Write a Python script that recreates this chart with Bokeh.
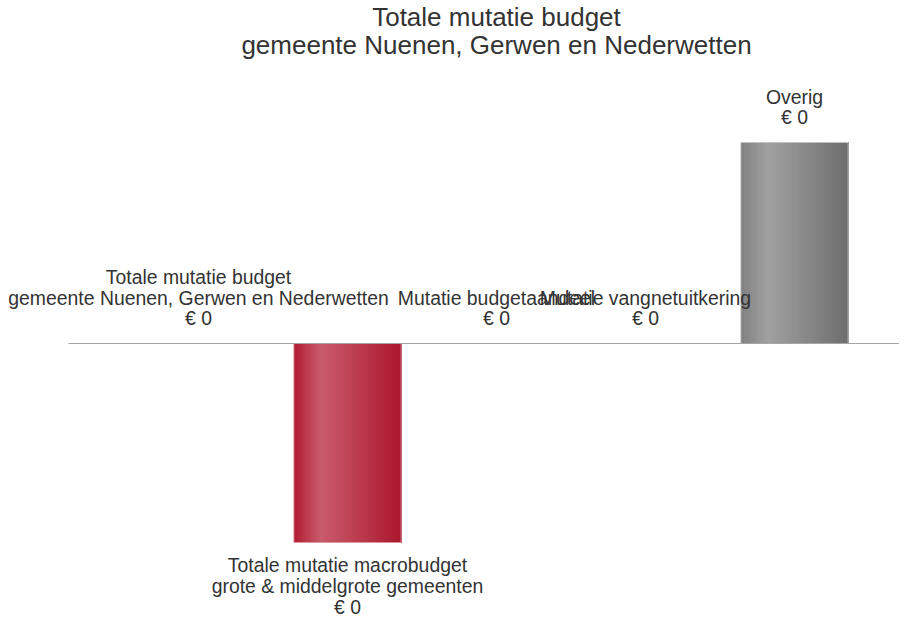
from bokeh.plotting import figure
from bokeh.models import Range1d
from bokeh.core.properties import value
from bokeh.embed import file_html
from bokeh.resources import INLINE

# ---- data ----
categories = [
    "Totale mutatie budget\ngemeente Nuenen, Gerwen en Nederwetten",
    "Totale mutatie macrobudget\ngrote & middelgrote gemeenten",
    "Mutatie budgetaandeel",
    "Mutatie vangnetuitkering",
    "Overig",
]
values = [0.0, -0.396, 0.0, 0.0, 0.4]
bar_kind = ["none", "red", "none", "none", "grey"]
title_lines = ["Totale mutatie budget", "gemeente Nuenen, Gerwen en Nederwetten"]

# ---- styles ----
FONT = "Liberation Sans"
TEXT_COLOR = "#333333"
gradients = {
    "red": [(0.0, (178, 28, 50)), (0.25, (201, 92, 107)), (1.0, (172, 23, 46))],
    "grey": [(0.0, (128, 128, 128)), (0.25, (161, 161, 161)), (1.0, (110, 110, 110))],
}
outline = {"red": "#dca0aa", "grey": "#c8c8c8"}

W, H = 899, 619
PX_PER_UNIT = 502.5
ZERO_PX = 343.0          # zero line from top of frame
STEP_PX = 149.0          # category spacing
FIRST_PX = 198.0         # first category centre from left of frame
BAR_W = 0.72
LINE_START_PX = 68.0

y_top = ZERO_PX / PX_PER_UNIT
y_bot = -(H - ZERO_PX) / PX_PER_UNIT
x_left = -FIRST_PX / STEP_PX
x_right = (W - FIRST_PX) / STEP_PX

p = figure(width=W, height=H, output_backend="svg", toolbar_location=None,
           x_range=Range1d(x_left, x_right), y_range=Range1d(y_bot, y_top),
           min_border=0, outline_line_color=None)
p.axis.visible = False
p.grid.visible = False


def interp(stops, t):
    for (t0, c0), (t1, c1) in zip(stops, stops[1:]):
        if t0 <= t <= t1:
            f = (t - t0) / (t1 - t0) if t1 > t0 else 0
            return "#%02x%02x%02x" % tuple(int(round(a + (b - a) * f)) for a, b in zip(c0, c1))
    return "#%02x%02x%02x" % stops[-1][1]


# gradient bars: stacked strips, each reaching to the bar's right edge (no seams)
N = 70
sl, sr, sb, st, sc = [], [], [], [], []
ol, orr, ob, ot, oc = [], [], [], [], []
for i, (v, kind) in enumerate(zip(values, bar_kind)):
    if kind == "none" or v == 0:
        continue
    left = i - BAR_W / 2
    bottom, top = min(0, v), max(0, v)
    for k in range(N):
        t = (k + 0.5) / N
        sl.append(left + BAR_W * k / N)
        sr.append(left + BAR_W)
        sb.append(bottom)
        st.append(top)
        sc.append(interp(gradients[kind], t))
    ol.append(left); orr.append(left + BAR_W); ob.append(bottom); ot.append(top); oc.append(outline[kind])

p.quad(left=sl, right=sr, bottom=sb, top=st, fill_color=sc, line_color=None)
p.quad(left=ol, right=orr, bottom=ob, top=ot, fill_color=None, line_color=oc,
       line_width=1, line_alpha=0.9)

# zero line
p.segment(x0=[-(FIRST_PX - LINE_START_PX) / STEP_PX], x1=[x_right], y0=[0], y1=[0],
          line_color="#a6a6a6", line_width=1)

# labels
up_x, up_y, up_t = [], [], []
dn_x, dn_y, dn_t = [], [], []
for i, (c, v) in enumerate(zip(categories, values)):
    txt = f"{c}\n€ {round(v)}"
    if v < 0:
        dn_x.append(i); dn_y.append(v); dn_t.append(txt)
    else:
        up_x.append(i); up_y.append(v); up_t.append(txt)

common = dict(text_font=value(FONT), text_font_size="19.4px", text_color=TEXT_COLOR,
              text_align="center", text_line_height=0.95)
p.text(x=up_x, y=up_y, text=up_t, text_baseline="bottom", y_offset=-14, **common)
p.text(x=dn_x, y=dn_y, text=dn_t, text_baseline="top", y_offset=12, **common)

# title
p.text(x=[(len(categories) - 1) / 2], y=[y_top], text=["\n".join(title_lines)],
       text_font=value(FONT), text_font_size="26px", text_color=TEXT_COLOR,
       text_align="center", text_baseline="top", y_offset=1, text_line_height=0.965)

open("out.html", "w").write(file_html(p, INLINE))
